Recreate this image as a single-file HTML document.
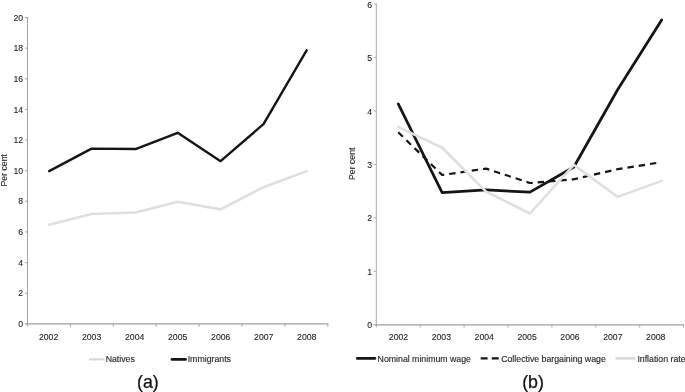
<!DOCTYPE html>
<html><head><meta charset="utf-8"><title>Figure</title>
<style>
html,body{margin:0;padding:0;background:#fff;}
body{width:685px;height:392px;overflow:hidden;}
svg{display:block;}
text{font-family:"Liberation Sans",Arial,Helvetica,sans-serif;fill:#222;}
.t{font-size:8.7px;stroke:#222;stroke-width:.1px;}
.l{font-size:8.76px;stroke:#222;stroke-width:.12px;}
.c{font-size:17.8px;fill:#111;stroke:#111;stroke-width:.25px;}
.av{stroke:#a2a2a2;stroke-width:1;fill:none;}
.bv{stroke:#aaa;}
.ah{stroke:#a0a0a0;stroke-width:1.25;fill:none;}
.ln{fill:none;stroke-width:2.4;stroke-linejoin:round;stroke-linecap:round;}
</style></head><body>
<svg width="685" height="392" viewBox="0 0 685 392">
<rect width="685" height="392" fill="#fff"/>
<path class="av" d="M27.5 17V326.5M70.41 323.9v2.8M113.32 323.9v2.8M156.23 323.9v2.8M199.14 323.9v2.8M242.05 323.9v2.8M284.96 323.9v2.8M327.87 323.9v2.8"/>
<path class="ah" d="M24.9 323.9H328.37"/>
<path class="av" d="M27.5 293.26h-2.4M27.5 262.62h-2.4M27.5 231.98h-2.4M27.5 201.34h-2.4M27.5 170.7h-2.4M27.5 140.06h-2.4M27.5 109.42h-2.4M27.5 78.78h-2.4M27.5 48.14h-2.4M27.5 17.5h-2.4"/>
<text class="t" x="23.2" y="327" text-anchor="end">0</text>
<text class="t" x="23.2" y="296.36" text-anchor="end">2</text>
<text class="t" x="23.2" y="265.72" text-anchor="end">4</text>
<text class="t" x="23.2" y="235.08" text-anchor="end">6</text>
<text class="t" x="23.2" y="204.44" text-anchor="end">8</text>
<text class="t" x="23.2" y="173.8" text-anchor="end">10</text>
<text class="t" x="23.2" y="143.16" text-anchor="end">12</text>
<text class="t" x="23.2" y="112.52" text-anchor="end">14</text>
<text class="t" x="23.2" y="81.88" text-anchor="end">16</text>
<text class="t" x="23.2" y="51.24" text-anchor="end">18</text>
<text class="t" x="23.2" y="20.6" text-anchor="end">20</text>
<text class="t" x="48.6" y="340.3" text-anchor="middle">2002</text>
<text class="t" x="91.63" y="340.3" text-anchor="middle">2003</text>
<text class="t" x="134.66" y="340.3" text-anchor="middle">2004</text>
<text class="t" x="177.69" y="340.3" text-anchor="middle">2005</text>
<text class="t" x="220.72" y="340.3" text-anchor="middle">2006</text>
<text class="t" x="263.75" y="340.3" text-anchor="middle">2007</text>
<text class="t" x="306.78" y="340.3" text-anchor="middle">2008</text>
<text class="t" transform="translate(7.4 170.3) rotate(-90)" text-anchor="middle">Per cent</text>
<polyline class="ln" style="stroke-width:2.6" stroke="#dfdfdf" points="49.16,224.72 91.56,214 135.57,212.46 177.69,201.74 220.59,209.4 263.5,187.19 306.61,171.1"/>
<polyline class="ln" stroke="#151515" points="49.16,171.1 91.56,148.58 135.57,149.04 177.69,132.8 220.59,161.14 263.5,124.07 306.61,50.38"/>
<path class="ln" style="stroke-width:2.4" stroke="#d9d9d9" d="M90.1 359.4H103.4"/>
<text class="l" x="105.7" y="362.4">Natives</text>
<path class="ln" style="stroke-width:2.7" stroke="#151515" d="M172 359.4H185.6"/>
<text class="l" x="187.7" y="362.4">Immigrants</text>
<text class="c" x="137.05" y="388.3">(a)</text>
<path class="av bv" d="M376.3 3.6V327.4M420.2 324.8v2.8M464.1 324.8v2.8M508 324.8v2.8M551.9 324.8v2.8M595.8 324.8v2.8M639.7 324.8v2.8M683.6 324.8v2.8"/>
<path class="ah" d="M373.7 324.8H684.1"/>
<path class="av bv" d="M376.3 271.35h-2.4M376.3 217.9h-2.4M376.3 164.45h-2.4M376.3 111h-2.4M376.3 57.55h-2.4M376.3 4.1h-2.4"/>
<text class="t" x="372.2" y="328.3" text-anchor="end">0</text>
<text class="t" x="372.2" y="274.85" text-anchor="end">1</text>
<text class="t" x="372.2" y="221.4" text-anchor="end">2</text>
<text class="t" x="372.2" y="167.95" text-anchor="end">3</text>
<text class="t" x="372.2" y="114.5" text-anchor="end">4</text>
<text class="t" x="372.2" y="61.05" text-anchor="end">5</text>
<text class="t" x="372.2" y="7.6" text-anchor="end">6</text>
<text class="t" x="398.5" y="340.3" text-anchor="middle">2002</text>
<text class="t" x="441.37" y="340.3" text-anchor="middle">2003</text>
<text class="t" x="484.24" y="340.3" text-anchor="middle">2004</text>
<text class="t" x="527.11" y="340.3" text-anchor="middle">2005</text>
<text class="t" x="569.98" y="340.3" text-anchor="middle">2006</text>
<text class="t" x="612.85" y="340.3" text-anchor="middle">2007</text>
<text class="t" x="655.72" y="340.3" text-anchor="middle">2008</text>
<text class="t" transform="translate(354.6 163.8) rotate(-90)" text-anchor="middle">Per cent</text>
<polyline class="ln" style="stroke-width:2.75" stroke="#151515" points="398.25,103.92 442.15,192.64 486.05,189.97 529.95,192.11 573.85,166.99 617.75,89.49 661.65,20"/>
<polyline class="ln" style="stroke-width:2.2;stroke-linecap:butt" stroke="#151515" stroke-dasharray="6.4 5" points="398.25,132.25 442.15,175.01 486.05,168.59 529.95,183.02 573.85,179.28 617.75,169.13 657.6,162.82"/>
<polyline class="ln" style="stroke-width:2.55" stroke="#dfdfdf" points="398.25,126.9 442.15,147.75 486.05,191.58 529.95,213.49 573.85,164.85 617.75,196.92 661.65,180.89"/>
<path class="ln" style="stroke-width:2.9" stroke="#151515" d="M357.4 358.4H374.8"/>
<text class="l" x="377.6" y="361.8">Nominal minimum wage</text>
<path class="ln" style="stroke-width:2.2;stroke-linecap:butt" stroke="#151515" stroke-dasharray="6.9 4.2" d="M480.7 358.4H498.8"/>
<text class="l" x="501.2" y="361.8">Collective bargaining wage</text>
<path class="ln" style="stroke-width:2.6" stroke="#dadada" d="M616.5 358.4H634.4"/>
<text class="l" x="637.4" y="361.8">Inflation rate</text>
<text class="c" x="522.2" y="388.2">(b)</text>
</svg>
</body></html>
